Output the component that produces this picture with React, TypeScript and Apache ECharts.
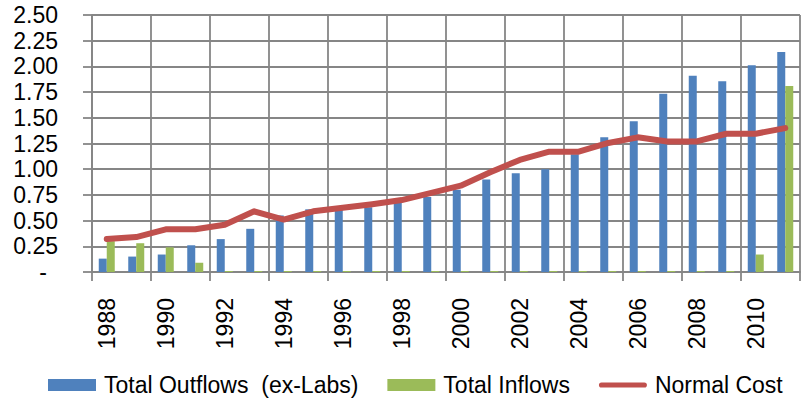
import React, { useEffect, useRef } from "react";
import * as echarts from "echarts";

const years = [
  "1988", "1989", "1990", "1991", "1992", "1993", "1994", "1995", "1996", "1997", "1998", "1999",
  "2000", "2001", "2002", "2003", "2004", "2005", "2006", "2007", "2008", "2009", "2010", "2011",
];
const outflows = [
  0.13, 0.15, 0.17, 0.26, 0.32, 0.42, 0.55, 0.61, 0.61, 0.63, 0.68, 0.73,
  0.8, 0.9, 0.96, 1.0, 1.145, 1.31, 1.466, 1.735, 1.91, 1.855, 2.01, 2.14,
];
const inflows = [
  0.3, 0.28, 0.24, 0.09, 0.01, 0.01, 0.01, 0.01, 0.01, 0.01, 0.01, 0.01,
  0.01, 0.01, 0.01, 0.01, 0.01, 0.01, 0.01, 0.01, 0.01, 0.01, 0.17, 1.81,
];
const normalCost = [
  0.32, 0.34, 0.415, 0.415, 0.46, 0.59, 0.51, 0.59, 0.625, 0.66, 0.7, 0.77,
  0.84, 0.97, 1.09, 1.17, 1.17, 1.255, 1.31, 1.27, 1.27, 1.345, 1.345, 1.4,
];
const seriesNames = ["Total Outflows\u00A0 (ex-Labs)", "Total Inflows", "Normal Cost"];

const FONT = "Liberation Sans";
const GRID = "#868686";

export default function App() {
  const ref = useRef<HTMLDivElement>(null);
  useEffect(() => {
    if (!ref.current) return;
    const chart = echarts.init(ref.current, null, { renderer: "svg" });
    chart.setOption({
      animation: false,
      textStyle: { fontFamily: FONT },
      grid: { left: 92, right: 2, top: 15, bottom: 130, containLabel: false },
      legend: {
        left: 48,
        top: 373,
        padding: 0,
        itemWidth: 48,
        itemHeight: 12,
        itemGap: 29,
        textStyle: { fontFamily: FONT, fontSize: 23, lineHeight: 24, color: "#000", padding: [0, 0, 0, 3] },
        data: [
          { name: seriesNames[0], icon: "rect" },
          { name: seriesNames[1], icon: "rect" },
          {
            name: seriesNames[2],
            icon: "path://M3,0 H53 A3,3 0 0 1 53,6 H3 A3,3 0 0 1 3,0 Z",
            itemStyle: { color: "#C0504D" },
          },
        ],
      },
      xAxis: {
        type: "category",
        data: years,
        boundaryGap: true,
        axisLine: { show: true, lineStyle: { color: GRID, width: 1.8 } },
        axisTick: { show: true, interval: 1, length: 9, lineStyle: { color: GRID, width: 1.8 } },
        splitLine: { show: true, interval: 1, lineStyle: { color: GRID, width: 1.8 } },
        axisLabel: {
          interval: 1,
          rotate: 90,
          margin: 26,
          fontFamily: FONT,
          fontSize: 23,
          color: "#000",
        },
      },
      yAxis: {
        type: "value",
        min: 0,
        max: 2.5,
        interval: 0.25,
        axisLine: { show: true, lineStyle: { color: GRID, width: 1.8 } },
        axisTick: { show: true, length: 9, lineStyle: { color: GRID, width: 1.8 } },
        splitLine: { show: true, lineStyle: { color: GRID, width: 1.8 } },
        axisLabel: {
          margin: 34,
          fontFamily: FONT,
          fontSize: 23,
          color: "#000",
          formatter: (v: number) => (v === 0 ? "{d|-}" : v.toFixed(2)),
          rich: { d: { fontFamily: FONT, fontSize: 23, color: "#000", padding: [0, 11, 0, 0] } },
        },
      },
      series: [
        {
          name: seriesNames[0],
          type: "bar",
          data: outflows,
          barWidth: 8,
          barGap: "0%",
          itemStyle: { color: "#4F81BD" },
        },
        {
          name: seriesNames[1],
          type: "bar",
          data: inflows,
          barWidth: 8,
          barGap: "0%",
          itemStyle: { color: "#9BBB59" },
        },
        {
          name: seriesNames[2],
          type: "line",
          data: normalCost,
          symbol: "none",
          showSymbol: false,
          lineStyle: { color: "#C0504D", width: 6, cap: "round", join: "round" },
          itemStyle: { color: "#C0504D" },
          z: 5,
        },
      ],
    });
    return () => chart.dispose();
  }, []);
  return (
    <div
      ref={ref}
      style={{ position: "fixed", left: 0, top: 0, width: 802, height: 402, background: "#fff" }}
    />
  );
}
